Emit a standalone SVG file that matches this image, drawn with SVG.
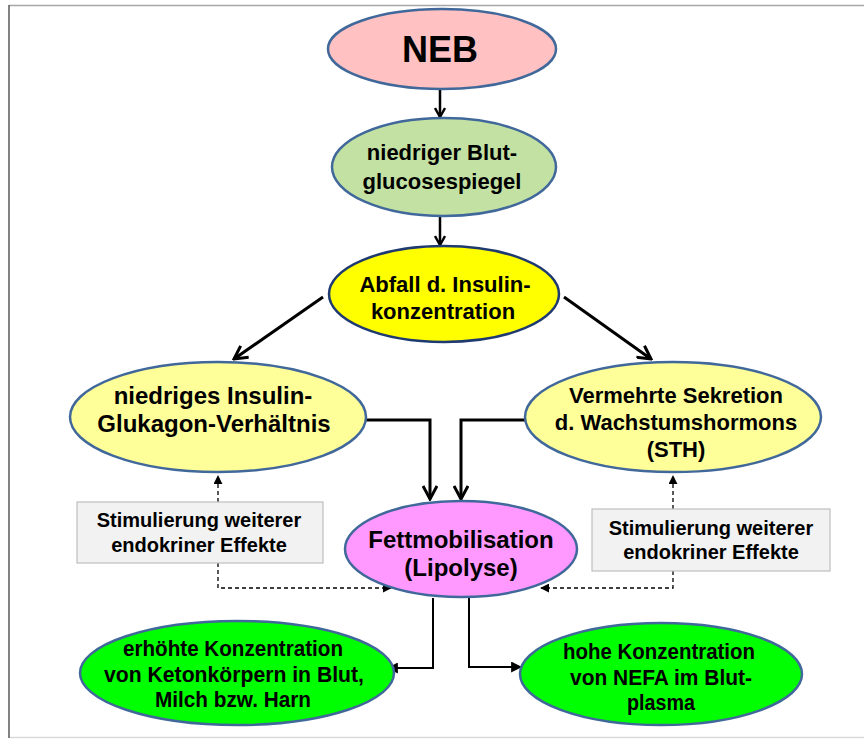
<svg xmlns="http://www.w3.org/2000/svg" width="864" height="739" viewBox="0 0 864 739">
<defs>
<marker id="vopen" viewBox="0 0 12 12" refX="10" refY="6" markerWidth="12" markerHeight="12" markerUnits="userSpaceOnUse" orient="auto">
<path d="M1,1 L10,6 L1,11" fill="none" stroke="#000" stroke-width="2.4"/>
</marker>
<marker id="vopen2" viewBox="0 0 16 16" refX="14" refY="8" markerWidth="16" markerHeight="16" markerUnits="userSpaceOnUse" orient="auto">
<path d="M1,1 L14,8 L1,15" fill="none" stroke="#000" stroke-width="3"/>
</marker>
<marker id="tri" viewBox="0 0 10 10" refX="9" refY="5" markerWidth="11" markerHeight="11" markerUnits="userSpaceOnUse" orient="auto">
<path d="M0,0 L10,5 L0,10 Z" fill="#000"/>
</marker>
<marker id="trid" viewBox="0 0 10 10" refX="9" refY="5" markerWidth="9" markerHeight="9" markerUnits="userSpaceOnUse" orient="auto">
<path d="M0,0 L10,5 L0,10 Z" fill="#000"/>
</marker>
</defs>
<style>
.n{stroke:#41689a;stroke-width:2.5}
.t{font-family:"Liberation Sans",Arial,sans-serif;font-weight:bold;fill:#000;text-anchor:middle}
.b{font-size:22px}
.box{fill:#f2f2f2;stroke:#bfbfbf;stroke-width:1.2}
.c{fill:none;stroke:#000}
.d{fill:none;stroke:#000;stroke-width:1.3;stroke-dasharray:4,3}
</style>
<rect width="864" height="739" fill="#fff"/>
<line x1="9" y1="5.5" x2="864" y2="5.5" stroke="#a6a6a6" stroke-width="1.5"/>
<line x1="9" y1="5" x2="9" y2="738" stroke="#595959" stroke-width="1.5"/>
<line x1="10" y1="737.5" x2="864" y2="737.5" stroke="#d9d9d9" stroke-width="1.5"/>

<g id="connectors">
<line class="c" x1="440" y1="89" x2="440" y2="117" stroke-width="2.5" marker-end="url(#vopen)"/>
<line class="c" x1="440" y1="217" x2="440" y2="245" stroke-width="2.5" marker-end="url(#vopen)"/>
<line class="c" x1="323" y1="297" x2="234" y2="359" stroke-width="3" marker-end="url(#vopen2)"/>
<line class="c" x1="564" y1="297" x2="651" y2="359" stroke-width="3" marker-end="url(#vopen2)"/>
<polyline class="c" points="364,420 430,420 430,499" stroke-width="3" marker-end="url(#vopen2)"/>
<polyline class="c" points="526,420 461,420 461,499" stroke-width="3" marker-end="url(#vopen2)"/>
<line class="d" x1="218" y1="502" x2="218" y2="476" marker-end="url(#trid)"/>
<polyline class="d" points="218,563 218,588 391,588" marker-end="url(#trid)"/>
<line class="d" x1="673" y1="509" x2="673" y2="476" marker-end="url(#trid)"/>
<polyline class="d" points="673,571 673,588 541,588" marker-end="url(#trid)"/>
<polyline class="c" points="433,598 433,668 388,668" stroke-width="2" marker-end="url(#tri)"/>
<polyline class="c" points="469,597 469,667 521,667" stroke-width="2" marker-end="url(#tri)"/>
</g>

<g id="neb">
<ellipse class="n" cx="442" cy="49" rx="114" ry="40" fill="#ffc1c1"/>
<text class="t" x="440" y="62" font-size="36">NEB</text>
</g>
<g id="blutglucose">
<ellipse class="n" cx="444" cy="167" rx="112" ry="49" fill="#c3e1a3"/>
<text class="t" x="442" y="160" font-size="22">niedriger Blut-</text>
<text class="t" x="442" y="189" font-size="22">glucosespiegel</text>
</g>
<g id="insulin">
<ellipse cx="444" cy="294" rx="115" ry="48" fill="#ffff00" stroke="#1f3a70" stroke-width="2.5"/>
<text class="t" x="445" y="292" font-size="22">Abfall d. Insulin-</text>
<text class="t" x="443" y="319" font-size="22">konzentration</text>
</g>
<g id="verhaeltnis">
<ellipse class="n" cx="218" cy="417" rx="148" ry="55" fill="#ffff99"/>
<text class="t" x="213" y="404" font-size="24">niedriges Insulin-</text>
<text class="t" x="214" y="432" font-size="24">Glukagon-Verhältnis</text>
</g>
<g id="sth">
<ellipse class="n" cx="673" cy="417" rx="148" ry="55" fill="#ffff99"/>
<text class="t" x="676" y="403" font-size="22">Vermehrte Sekretion</text>
<text class="t" x="676" y="430" font-size="22">d. Wachstumshormons</text>
<text class="t" x="676" y="457" font-size="22">(STH)</text>
</g>
<g id="box-left">
<rect class="box" x="77" y="502" width="246" height="61"/>
<text class="t" x="199" y="527" font-size="20">Stimulierung weiterer</text>
<text class="t" x="199" y="552" font-size="20">endokriner Effekte</text>
</g>
<g id="box-right">
<rect class="box" x="592" y="509" width="238" height="62"/>
<text class="t" x="711" y="535" font-size="20">Stimulierung weiterer</text>
<text class="t" x="711" y="559" font-size="20">endokriner Effekte</text>
</g>
<g id="fett">
<ellipse class="n" cx="461" cy="549" rx="116" ry="48" fill="#ff99ff"/>
<text class="t" x="461" y="548" font-size="24">Fettmobilisation</text>
<text class="t" x="461" y="576" font-size="24">(Lipolyse)</text>
</g>
<g id="keton">
<ellipse class="n" cx="237" cy="673" rx="157" ry="52" fill="#00ff00"/>
<text class="t b" x="233" y="656" textLength="220" lengthAdjust="spacingAndGlyphs">erhöhte Konzentration</text>
<text class="t b" x="234" y="682" textLength="260" lengthAdjust="spacingAndGlyphs">von Ketonkörpern in Blut,</text>
<text class="t b" x="233" y="707" textLength="156" lengthAdjust="spacingAndGlyphs">Milch bzw. Harn</text>
</g>
<g id="nefa">
<ellipse class="n" cx="661" cy="674" rx="141" ry="51" fill="#00ff00"/>
<text class="t b" x="659" y="659" textLength="192" lengthAdjust="spacingAndGlyphs">hohe Konzentration</text>
<text class="t b" x="661" y="685" textLength="182" lengthAdjust="spacingAndGlyphs">von NEFA im Blut-</text>
<text class="t b" x="661" y="710" textLength="68" lengthAdjust="spacingAndGlyphs">plasma</text>
</g>
</svg>
